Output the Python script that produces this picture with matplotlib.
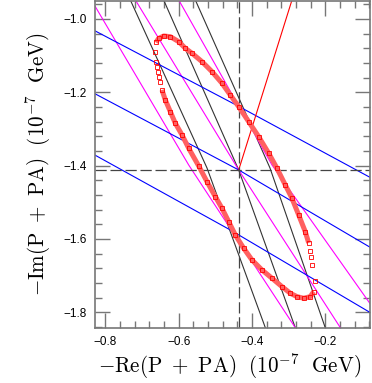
import matplotlib
matplotlib.use("Agg")
import matplotlib.pyplot as plt
from matplotlib.ticker import MultipleLocator, FuncFormatter

# constraint curves, (x, y) in units of 1e-7 GeV
black_x = [[-0.7381, -0.5227, -0.3563],
           [-0.6470, -0.4362, -0.2748],
           [-0.5606, -0.3509, -0.1932]]
black_y = [[-0.9345, -1.4063, -1.8618],
           [-0.9345, -1.4118, -1.8618],
           [-0.9345, -1.4063, -1.8618]]

magenta_x = [[-0.8461, -0.5726, -0.2688],
             [-0.7264, -0.4362, -0.1461],
             [-0.6075, -0.3454, -0.0645]]
magenta_y = [[-0.9345, -1.3982, -1.8618],
             [-0.9345, -1.4118, -1.8618],
             [-0.9345, -1.3982, -1.7952]]

blue_x = [[-0.8472, -0.4346, -0.0618],
          [-0.8472, -0.4362, -0.0618],
          [-0.8472, -0.4591, -0.0618]]
blue_y = [[-1.0224, -1.2392, -1.4407],
          [-1.1939, -1.4118, -1.6320],
          [-1.3608, -1.5754, -1.8099]]

# central value and the red ray going out of it
x0, y0 = -0.4362, -1.4118
ray_x = [-0.4362, -0.2865]
ray_y = [-1.4118, -0.9345]

# scan points (open squares), dense and sparse parts
dense1_x = [-0.6617, -0.6549, -0.6407, -0.6227, -0.5998, -0.5818, -0.5636,
            -0.5363, -0.5090, -0.4818, -0.4591, -0.4362, -0.4089, -0.3817,
            -0.3544, -0.3318, -0.3091, -0.2909, -0.2726, -0.2546, -0.2453]
dense1_y = [-1.0641, -1.0532, -1.0464, -1.0483, -1.0619, -1.0799, -1.0935,
            -1.1164, -1.1437, -1.1753, -1.2073, -1.2392, -1.2801, -1.3210,
            -1.3662, -1.4071, -1.4527, -1.4890, -1.5345, -1.5800, -1.6108]
sparse1_x = [-0.2410, -0.2385, -0.2363, -0.2290]
sparse1_y = [-1.6340, -1.6504, -1.6708, -1.7145]
dense2_x = [-0.2317, -0.2410, -0.2590, -0.2772, -0.2955, -0.3181, -0.3454,
            -0.3727, -0.4000, -0.4226, -0.4455, -0.4635, -0.4818, -0.5000,
            -0.5227, -0.5453, -0.5726, -0.5908, -0.6091, -0.6227, -0.6364,
            -0.6454]
dense2_y = [-1.7437, -1.7573, -1.7617, -1.7573, -1.7480, -1.7300, -1.7071,
            -1.6845, -1.6572, -1.6253, -1.5890, -1.5528, -1.5162, -1.4846,
            -1.4437, -1.4009, -1.3526, -1.3163, -1.2844, -1.2528, -1.2209,
            -1.1936]
sparse2_x = [-0.6517, -0.6544, -0.6571, -0.6590, -0.6609, -0.6653]
sparse2_y = [-1.1718, -1.1573, -1.1437, -1.1301, -1.1164, -1.0892]

plt.rcParams['font.family'] = ['Liberation Sans', 'DejaVu Sans']
plt.rcParams['mathtext.fontset'] = 'cm'

fig = plt.figure(figsize=(3.72, 3.83), dpi=100)
ax = fig.add_axes([94.7 / 372, 1 - 327.7 / 383, (370 - 94.7) / 372, (327.7 - 1) / 383])

for xs, ys in zip(black_x, black_y):
    ax.plot(xs, ys, color='#333333', lw=0.8)
for xs, ys in zip(magenta_x, magenta_y):
    ax.plot(xs, ys, color='magenta', lw=0.8)
for xs, ys in zip(blue_x, blue_y):
    ax.plot(xs, ys, color='blue', lw=0.8)

ax.plot(ray_x, ray_y, color='red', lw=0.8)
ax.axvline(x0, color='#444444', lw=0.9, dashes=(9, 3))
ax.axhline(y0, color='#444444', lw=0.9, dashes=(9, 3))

# dense parts of the scan: markers overlap into a band
for xs, ys in [(dense1_x, dense1_y), (dense2_x, dense2_y)]:
    ax.plot(xs, ys, color='#ff6060', lw=3.6, solid_capstyle='butt', zorder=4)
    ax.plot(xs, ys, ls='none', marker='s', ms=3, mfc='none', mec='red', mew=0.6, zorder=5)
for xs, ys in [(sparse1_x, sparse1_y), (sparse2_x, sparse2_y)]:
    ax.plot(xs, ys, ls='none', marker='s', ms=3, mfc='none', mec='red', mew=0.6, zorder=5)

ax.set_xlim(-0.829, -0.078)
ax.set_ylim(-1.842, -0.951)

ax.xaxis.set_major_locator(MultipleLocator(0.2))
ax.xaxis.set_minor_locator(MultipleLocator(0.04))
ax.yaxis.set_major_locator(MultipleLocator(0.2))
ax.yaxis.set_minor_locator(MultipleLocator(0.04))
fmt = FuncFormatter(lambda v, p: ('%.1f' % v).replace('-', '\u2212'))
ax.xaxis.set_major_formatter(fmt)
ax.yaxis.set_major_formatter(fmt)
ax.tick_params(which='both', direction='in', top=True, right=True,
               color='#777777', labelcolor='black', labelsize=8.5)
ax.tick_params(which='major', length=10.5, width=1.0, pad=6)
ax.tick_params(which='minor', length=4.8, width=1.0)
for s in ax.spines.values():
    s.set_color('#777777')
    s.set_linewidth(1.2)

ax.set_xlabel(r'$-\mathrm{Re(P\ +\ PA)}\ \ (10^{-7}\ \ \mathrm{GeV})$', fontsize=15.2)
ax.set_ylabel(r'$-\mathrm{Im(P\ +\ PA)}\ \ (10^{-7}\ \ \mathrm{GeV})$', fontsize=15.2, labelpad=7)
ax.xaxis.set_label_coords(0.49, -0.074)

fig.savefig('out.png', dpi=100)
